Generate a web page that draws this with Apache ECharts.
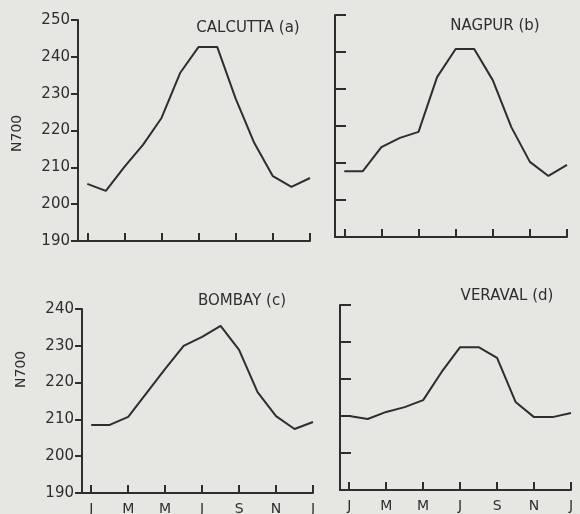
<!DOCTYPE html>
<html>
<head>
<meta charset="utf-8">
<script src="https://cdn.jsdelivr.net/npm/echarts@6/dist/echarts.min.js"></script>
<style>
html,body{margin:0;padding:0;background:#e6e6e3;}
#main{width:580px;height:514px;}
</style>
</head>
<body>
<div id="main"></div>
<script>
// month index 0..12 = Jan .. Jan
var months = [0,1,2,3,4,5,6,7,8,9,10,11,12];
var tickMonths = [0,2,4,6,8,10,12];
var tickLabels = ['J','M','M','J','S','N','J'];

var calcutta = [205.5,203.6,210.1,216.1,223.4,235.6,242.7,242.7,228.6,216.6,207.6,204.7,207.1];
var nagpur   = [207.8,207.8,214.3,216.8,218.4,233.2,240.8,240.8,232.4,219.7,210.3,206.5,209.5];
var bombay   = [208.5,208.5,210.7,217.2,223.7,230.0,232.4,235.4,228.9,217.4,210.9,207.4,209.3];
var veraval  = [210.0,209.2,211.1,212.4,214.3,221.9,228.6,228.6,225.7,213.8,209.7,209.7,210.8];

var titles = ['CALCUTTA (a)','NAGPUR (b)','BOMBAY (c)','VERAVAL (d)'];

var myChart = echarts.init(document.getElementById('main'));

var ink = '#2e2e2e';
var font = 'DejaVu Sans';

function pairs(vals){
	return months.map(function(m,i){ return [m, vals[i]]; });
}

function xAxis(idx, showLabel){
	return {
		type:'value', gridIndex:idx, min:-0.5, max:12,
		axisLine:{onZero:false,lineStyle:{color:ink,width:2}},
		axisTick:{inside:true,length:8,customValues:tickMonths,lineStyle:{color:ink,width:2}},
		axisLabel:{show:showLabel,customValues:tickMonths,margin:9,color:ink,fontSize:14,fontFamily:font,
			formatter:function(v){ return tickLabels[tickMonths.indexOf(v)] || ''; }},
		splitLine:{show:false}
	};
}

function yAxis(idx, max, showLabel){
	return {
		type:'value', gridIndex:idx, min:190, max:max, interval:10,
		axisLine:{show:true,onZero:false,lineStyle:{color:ink,width:2}},
		axisTick:{show:true,inside:!showLabel,length:showLabel?7:11,lineStyle:{color:ink,width:2}},
		axisLabel:{show:showLabel,margin:8,color:ink,fontSize:15,fontFamily:font},
		splitLine:{show:false}
	};
}

function line(idx, vals){
	return {
		type:'line', xAxisIndex:idx, yAxisIndex:idx, data:pairs(vals),
		symbol:'none', lineStyle:{color:ink,width:2}, animation:false
	};
}

option = {
	backgroundColor:'#e6e6e3',
	grid:[
		{left:78, top:20, width:232, height:221},
		{left:335, top:15, width:232, height:222},
		{left:82, top:309, width:231, height:184},
		{left:340, top:305, width:231, height:185}
	].map(function(g){ g.outerBoundsMode = 'none'; g.containLabel = false; return g; }),
	title:[
		{text:titles[0], left:243, top:16, textAlign:'center'},
		{text:titles[1], left:490, top:14, textAlign:'center'},
		{text:titles[2], left:237, top:289, textAlign:'center'},
		{text:titles[3], left:502, top:284, textAlign:'center'}
	].map(function(t){
		t.textStyle = {color:ink,fontSize:15,fontWeight:'normal',fontFamily:font};
		return t;
	}),
	graphic:[
		{type:'text', x:10, y:152, rotation:Math.PI/2, style:{text:'N700',fill:ink,font:'14px "DejaVu Sans"'}},
		{type:'text', x:14, y:388, rotation:Math.PI/2, style:{text:'N700',fill:ink,font:'14px "DejaVu Sans"'}}
	],
	xAxis:[xAxis(0,false), xAxis(1,false), xAxis(2,true), xAxis(3,true)],
	yAxis:[yAxis(0,250,true), yAxis(1,250,false), yAxis(2,240,true), yAxis(3,240,false)],
	series:[line(0,calcutta), line(1,nagpur), line(2,bombay), line(3,veraval)]
};

myChart.setOption(option,true);
</script>
</body>
</html>
